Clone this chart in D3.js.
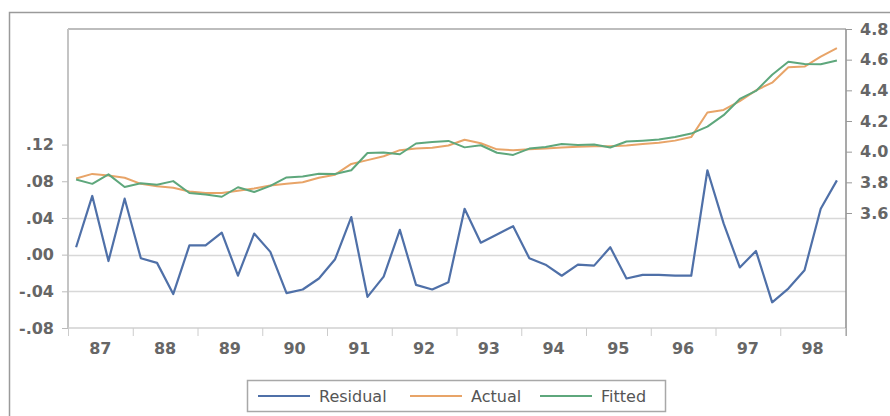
<!DOCTYPE html>
<html><head><meta charset="utf-8">
<script src="https://cdn.jsdelivr.net/npm/d3@7"></script>
<style>html,body{margin:0;padding:0;background:#fff;}svg{display:block;}</style>
</head><body>
<svg id="chart" width="890" height="416"></svg>
<script>
// Quarterly observations 1987Q1 .. 1998Q4
const years = ["87","88","89","90","91","92","93","94","95","96","97","98"];
const residual = [0.008,0.064,-0.007,0.061,-0.004,-0.009,-0.043,0.010,0.010,0.024,-0.023,0.023,
  0.003,-0.042,-0.038,-0.026,-0.005,0.041,-0.046,-0.024,0.027,-0.033,-0.038,-0.030,
  0.050,0.013,0.022,0.031,-0.004,-0.011,-0.023,-0.011,-0.012,0.008,-0.026,-0.022,
  -0.022,-0.023,-0.023,0.092,0.034,-0.014,0.004,-0.052,-0.037,-0.017,0.050,0.081];
const actual = [3.825,3.855,3.845,3.830,3.790,3.775,3.765,3.740,3.730,3.730,3.745,3.760,
  3.780,3.790,3.800,3.830,3.850,3.920,3.945,3.970,4.010,4.020,4.025,4.040,
  4.078,4.055,4.015,4.010,4.016,4.020,4.027,4.032,4.035,4.035,4.040,4.050,
  4.058,4.072,4.095,4.255,4.272,4.330,4.400,4.450,4.550,4.555,4.620,4.675];
const fitted = [3.818,3.790,3.852,3.770,3.794,3.784,3.808,3.730,3.720,3.706,3.768,3.737,
  3.777,3.832,3.838,3.856,3.855,3.879,3.991,3.994,3.983,4.053,4.063,4.070,
  4.028,4.042,3.993,3.979,4.020,4.031,4.050,4.043,4.047,4.027,4.066,4.072,
  4.080,4.095,4.118,4.163,4.238,4.344,4.396,4.502,4.587,4.572,4.570,4.594];
const leftTicks = [-0.08,-0.04,0.00,0.04,0.08,0.12];
const leftGrid = [-0.04,0.00,0.04];
const rightTicks = [3.6,3.8,4.0,4.2,4.4,4.6,4.8];
const seriesNames = ["Residual","Actual","Fitted"];
const seriesColors = ["#4f70a8","#e8a468","#5ea77c"];

const svg = d3.select("#chart");
const L = 68, R = 846, T = 29, B = 328;
const n = residual.length;
const x = d3.scaleLinear().domain([0, n]).range([L, R - 1]);
const yL = d3.scaleLinear().domain([-0.08, 0.246]).range([B, T]);
const yR = d3.scaleLinear().domain([2.85, 4.8]).range([B, T]);
const font = "DejaVu Sans, Verdana, sans-serif";

// outer frame
svg.append("rect").attr("x", 9.5).attr("y", 12.5).attr("width", 890).attr("height", 420)
  .attr("fill", "none").attr("stroke", "#9a9a9a").attr("stroke-width", 1.5);

// grid
svg.append("g").selectAll("line").data(leftGrid).join("line")
  .attr("x1", L).attr("x2", R).attr("y1", d => Math.round(yL(d)) + 0.5).attr("y2", d => Math.round(yL(d)) + 0.5)
  .attr("stroke", "#d8d8d8").attr("stroke-width", 1.5);

// plot frame
svg.append("line").attr("x1", L).attr("x2", R).attr("y1", T).attr("y2", T).attr("stroke", "#bdbdbd").attr("stroke-width", 2);
svg.append("line").attr("x1", L).attr("x2", L).attr("y1", T).attr("y2", B).attr("stroke", "#c4c4c4").attr("stroke-width", 2);
svg.append("line").attr("x1", L).attr("x2", R).attr("y1", B).attr("y2", B).attr("stroke", "#d0d0d0").attr("stroke-width", 1.5);
svg.append("line").attr("x1", R).attr("x2", R).attr("y1", T).attr("y2", B + 8).attr("stroke", "#8c8c8c").attr("stroke-width", 1.5);

// left axis
const fmtL = d => (d < 0 ? "-" : "") + d3.format(".2f")(Math.abs(d)).replace(/^0/, "");
const gL = svg.append("g").attr("transform", `translate(${L},0)`)
  .call(d3.axisLeft(yL).tickValues(leftTicks).tickFormat(fmtL).tickSize(6).tickPadding(8));
gL.select(".domain").remove();
gL.selectAll("line").attr("stroke", "#bbb");
gL.selectAll("text").attr("font-family", font).attr("font-size", 16).attr("font-weight", "bold").attr("fill", "#666");

// right axis
const gR = svg.append("g").attr("transform", `translate(${R},0)`)
  .call(d3.axisRight(yR).tickValues(rightTicks).tickFormat(d3.format(".1f")).tickSize(6).tickPadding(8));
gR.select(".domain").remove();
gR.selectAll("line").attr("stroke", "#999");
gR.selectAll("text").attr("font-family", font).attr("font-size", 16).attr("font-weight", "bold").attr("fill", "#666");

// bottom axis: ticks at year boundaries, labels centered within years
const gB = svg.append("g").attr("transform", `translate(0,${B})`);
gB.call(d3.axisBottom(x).tickValues(d3.range(0, n + 1, 4)).tickFormat("").tickSize(8));
gB.select(".domain").remove();
gB.selectAll("line").attr("stroke", "#ccc");
gB.selectAll("text.yr").data(years).join("text").attr("class", "yr")
  .attr("x", (d, i) => x(i * 4 + 2)).attr("y", 26)
  .attr("text-anchor", "middle").attr("font-family", font).attr("font-size", 16).attr("font-weight", "bold").attr("fill", "#666")
  .text(d => d);

// lines
const lineL = d3.line().x((d, i) => x(i + 0.5)).y(d => yL(d));
const lineR = d3.line().x((d, i) => x(i + 0.5)).y(d => yR(d));
svg.append("path").datum(actual).attr("d", lineR).attr("fill", "none")
  .attr("stroke", seriesColors[1]).attr("stroke-width", 2).attr("stroke-linejoin", "round");
svg.append("path").datum(fitted).attr("d", lineR).attr("fill", "none")
  .attr("stroke", seriesColors[2]).attr("stroke-width", 2).attr("stroke-linejoin", "round");
svg.append("path").datum(residual).attr("d", lineL).attr("fill", "none")
  .attr("stroke", seriesColors[0]).attr("stroke-width", 2.2).attr("stroke-linejoin", "round");

// legend
const lg = svg.append("g");
lg.append("rect").attr("x", 247.5).attr("y", 380.5).attr("width", 418).attr("height", 31)
  .attr("fill", "#fff").attr("stroke", "#a8a8a8").attr("stroke-width", 1.5);
const legX = [258, 410, 540];
const items = lg.selectAll("g.it").data(seriesNames).join("g").attr("class", "it")
  .attr("transform", (d, i) => `translate(${legX[i]},396)`);
items.append("line").attr("x1", 0).attr("x2", 52).attr("y1", 0).attr("y2", 0)
  .attr("stroke", (d, i) => seriesColors[i]).attr("stroke-width", 2.2);
items.append("text").attr("x", 61).attr("y", 6).attr("font-family", font).attr("font-size", 16)
  .attr("fill", "#555").text(d => d);
</script>
</body></html>
